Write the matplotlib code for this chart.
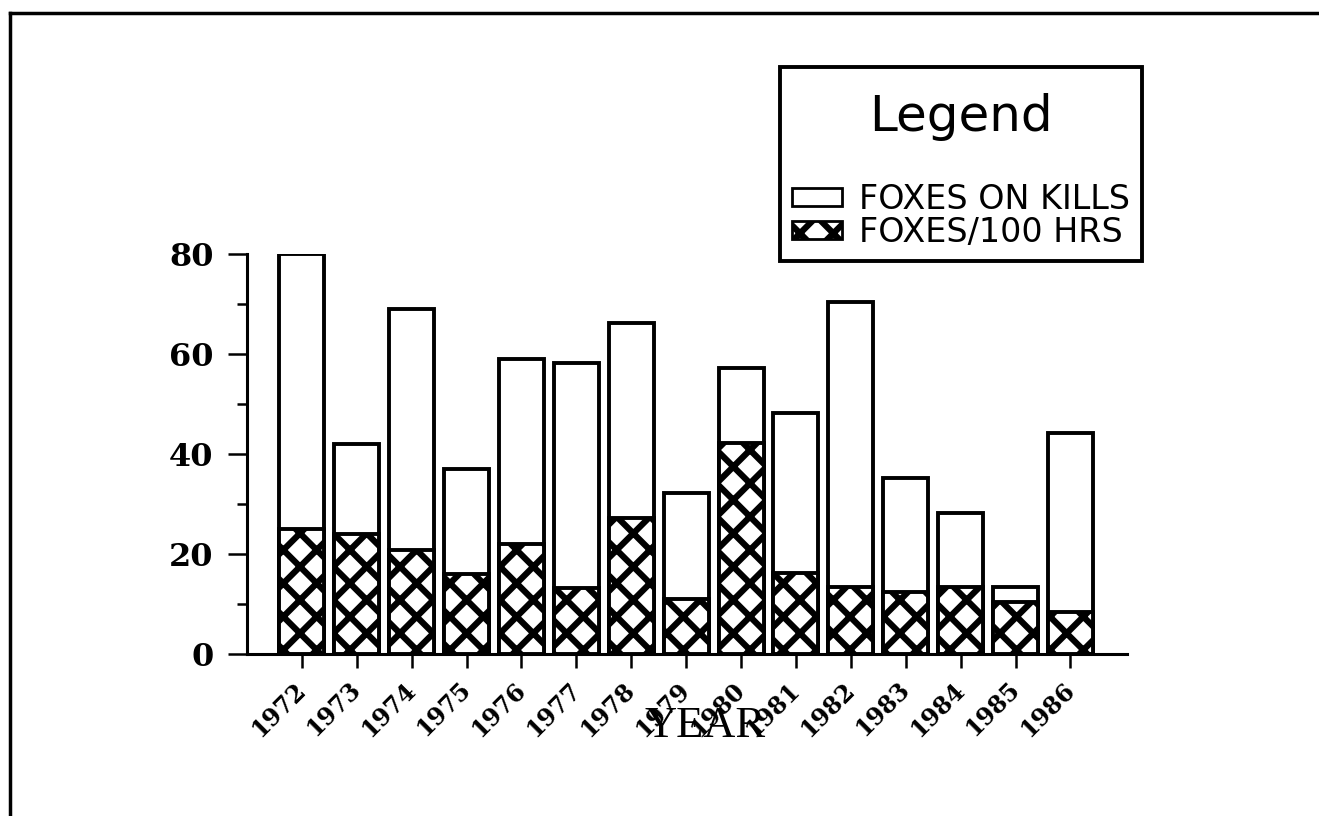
import numpy as np
import matplotlib
matplotlib.use("Agg")
import matplotlib.pyplot as plt
from matplotlib.patches import Patch
from matplotlib.lines import Line2D
from matplotlib.offsetbox import VPacker, DrawingArea

years = ["1972", "1973", "1974", "1975", "1976", "1977", "1978", "1979",
         "1980", "1981", "1982", "1983", "1984", "1985", "1986"]
foxes_on_kills = [80, 42, 69, 37, 59, 58.2, 66.2, 32.2, 57.2, 48.2, 70.4, 35.2, 28.2, 13.4, 44.2]
foxes_per_100hrs = [25, 24, 20.8, 16, 22, 13.2, 27.2, 11, 42.2, 16.2, 13.4, 12.4, 13.4, 10.4, 8.4]
y_ticks = [0, 20, 40, 60, 80]

plt.rcParams['hatch.linewidth'] = 4.5

fig = plt.figure(figsize=(13.19, 8.16), dpi=100)
ax = fig.add_axes([247 / 1319, 1 - 654 / 816, 880 / 1319, 400 / 816])

x = np.arange(len(years))
ax.bar(x, foxes_on_kills, width=0.82, color="white", edgecolor="black",
       linewidth=2.8, zorder=2, label="FOXES ON KILLS")
ax.bar(x, foxes_per_100hrs, width=0.82, color="white", edgecolor="black",
       hatch="x", linewidth=2.8, zorder=3, label="FOXES/100 HRS")

ax.set_xlim(-1, 15.03)
ax.set_ylim(0, 80)
for s in ["top", "right"]:
    ax.spines[s].set_visible(False)
for s in ["left", "bottom"]:
    ax.spines[s].set_linewidth(2.2)

ax.set_yticks(y_ticks)
ax.set_yticks([10, 30, 50, 70], minor=True)
ax.set_xticks(x)
ax.set_xticklabels(years, rotation=45, ha="right", va="center",
                   rotation_mode="anchor",
                   fontfamily="DejaVu Serif", fontweight="bold", fontsize=17)
ax.tick_params(axis="y", which="major", length=14, width=1.8, pad=10)
ax.tick_params(axis="y", which="minor", length=7, width=1.8)
ax.tick_params(axis="x", length=10, width=1.8, pad=13)
for lab in ax.get_yticklabels():
    lab.set_fontfamily("DejaVu Serif")
    lab.set_fontweight("bold")
    lab.set_fontsize(23)

ax.set_xlabel("YEAR", fontfamily="Liberation Serif", fontsize=32)
ax.xaxis.set_label_coords((705 - 247) / 880, (654 - 706) / 400)

handles = [Patch(facecolor="white", edgecolor="black", linewidth=2),
           Patch(facecolor="white", edgecolor="black", hatch="x", linewidth=2)]
leg = fig.legend(handles, ["FOXES ON KILLS", "FOXES/100 HRS"],
                 title="Legend", loc="upper left",
                 bbox_to_anchor=(780 / 1319, 1 - 67 / 816),
                 fontsize=24, title_fontsize=36, fancybox=False,
                 edgecolor="black", framealpha=1, handlelength=1.5,
                 handleheight=0.45, handletextpad=0.5, labelspacing=0.0,
                 borderpad=0.37, borderaxespad=0)
leg.get_frame().set_linewidth(2.8)
# extra space above the title and between the title and the entries
title_box = leg._legend_box._children[0]
leg._legend_box._children[0] = VPacker(children=[DrawingArea(1, 10), title_box],
                                       pad=0, sep=0, align="center")
leg._legend_box.sep = 30

# outer frame (left and top edges)
fig.add_artist(Line2D([10 / 1319, 10 / 1319], [0, 1 - 13 / 816],
                      color="black", linewidth=2.5, transform=fig.transFigure))
fig.add_artist(Line2D([10 / 1319, 1], [1 - 13 / 816, 1 - 13 / 816],
                      color="black", linewidth=2.5, transform=fig.transFigure))

fig.savefig("out.png", dpi=100)
